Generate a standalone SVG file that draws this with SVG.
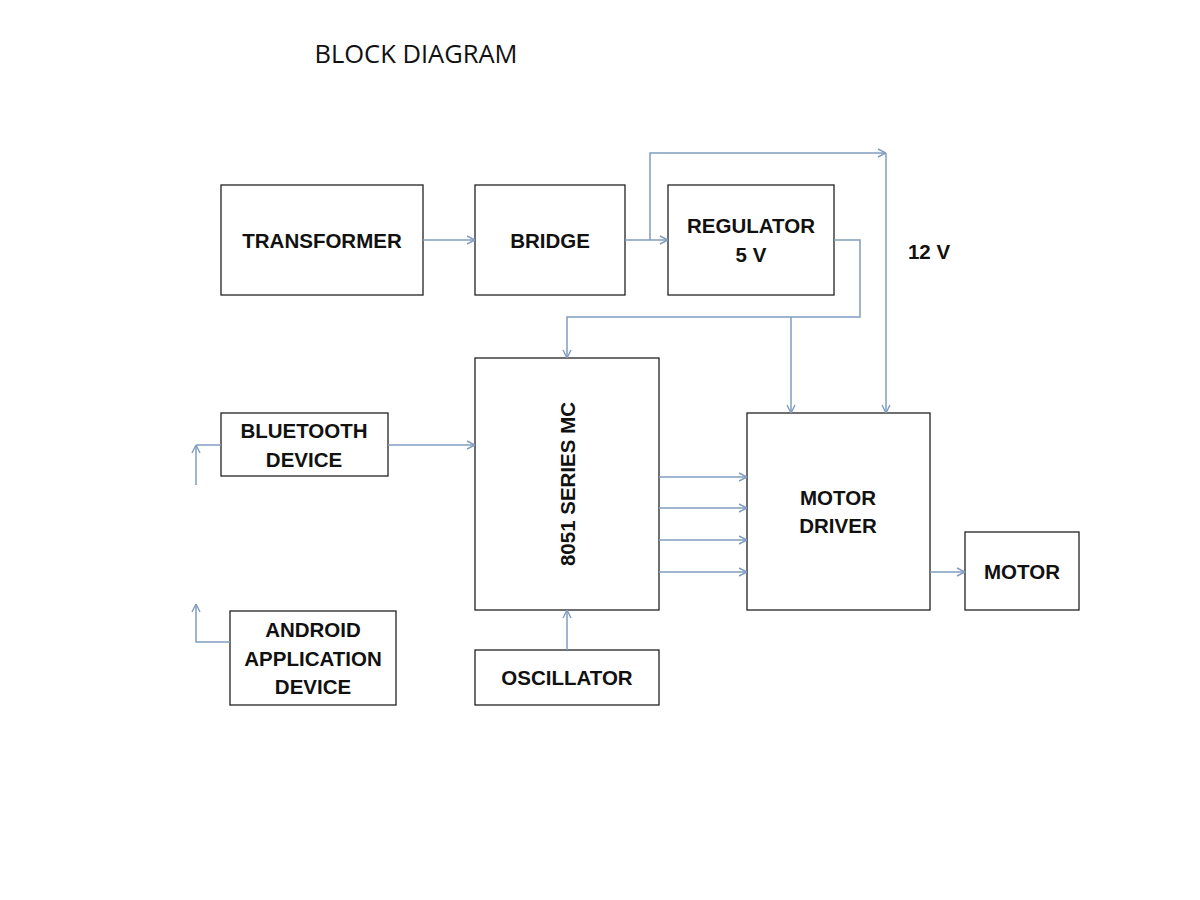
<svg xmlns="http://www.w3.org/2000/svg" width="1200" height="900" viewBox="0 0 1200 900">
<style>
.box{fill:#fff;stroke:#222;stroke-width:1.3}
.lbl{font-family:"Liberation Sans",Arial,sans-serif;font-weight:bold;font-size:20.5px;fill:#111;text-anchor:middle}
.con{fill:none;stroke:#7f9cc0;stroke-width:1.5}
</style>
<defs>
<marker id="ah" viewBox="0 0 10 10" refX="10" refY="5" markerWidth="10" markerHeight="10" markerUnits="userSpaceOnUse" orient="auto">
<path d="M2,1 L10,5 L2,9" fill="none" stroke="#7f9cc0" stroke-width="1.4"/>
</marker>
</defs>
<rect width="1200" height="900" fill="#fff"/>
<text x="416" y="63" style="font-family:'Open Sans','Liberation Sans',sans-serif;font-size:25.5px;fill:#111;text-anchor:middle">BLOCK DIAGRAM</text>

<g id="transformer"><rect class="box" x="221" y="185" width="202" height="110"/><text class="lbl" x="322" y="248">TRANSFORMER</text></g>
<g id="bridge"><rect class="box" x="475" y="185" width="150" height="110"/><text class="lbl" x="550" y="248">BRIDGE</text></g>
<g id="regulator"><rect class="box" x="668" y="185" width="166" height="110"/><text class="lbl" x="751" y="233">REGULATOR</text><text class="lbl" x="751" y="262">5 V</text></g>
<g id="mc"><rect class="box" x="475" y="358" width="184" height="252"/><text class="lbl" transform="translate(575,484) rotate(-90)">8051 SERIES MC</text></g>
<g id="bluetooth"><rect class="box" x="221" y="413" width="167" height="63"/><text class="lbl" x="304" y="438">BLUETOOTH</text><text class="lbl" x="304" y="467">DEVICE</text></g>
<g id="android"><rect class="box" x="230" y="611" width="166" height="94"/><text class="lbl" x="313" y="637">ANDROID</text><text class="lbl" x="313" y="666">APPLICATION</text><text class="lbl" x="313" y="694">DEVICE</text></g>
<g id="oscillator"><rect class="box" x="475" y="650" width="184" height="55"/><text class="lbl" x="567" y="685">OSCILLATOR</text></g>
<g id="driver"><rect class="box" x="747" y="413" width="183" height="197"/><text class="lbl" x="838" y="505">MOTOR</text><text class="lbl" x="838" y="533">DRIVER</text></g>
<g id="motor"><rect class="box" x="965" y="532" width="114" height="78"/><text class="lbl" x="1022" y="579">MOTOR</text></g>
<g id="v12"><text class="lbl" x="929" y="259">12 V</text></g>

<g id="connectors">
<path class="con" d="M423,240 H475" marker-end="url(#ah)"/>
<path class="con" d="M625,240 H668" marker-end="url(#ah)"/>
<path class="con" d="M650,240 V153 H886" marker-end="url(#ah)"/>
<path class="con" d="M886,153 V413" marker-end="url(#ah)"/>
<path class="con" d="M834,240 H860 V317 H567 V358" marker-end="url(#ah)"/>
<path class="con" d="M791,317 V413" marker-end="url(#ah)"/>
<path class="con" d="M388,445 H475" marker-end="url(#ah)"/>
<path class="con" d="M221,445 H196"/>
<path class="con" d="M196,485 V445" marker-end="url(#ah)"/>
<path class="con" d="M230,642 H196 V604" marker-end="url(#ah)"/>
<path class="con" d="M659,477 H747" marker-end="url(#ah)"/>
<path class="con" d="M659,508 H747" marker-end="url(#ah)"/>
<path class="con" d="M659,540 H747" marker-end="url(#ah)"/>
<path class="con" d="M659,572 H747" marker-end="url(#ah)"/>
<path class="con" d="M567,650 V610" marker-end="url(#ah)"/>
<path class="con" d="M930,572 H965" marker-end="url(#ah)"/>
</g>
</svg>
